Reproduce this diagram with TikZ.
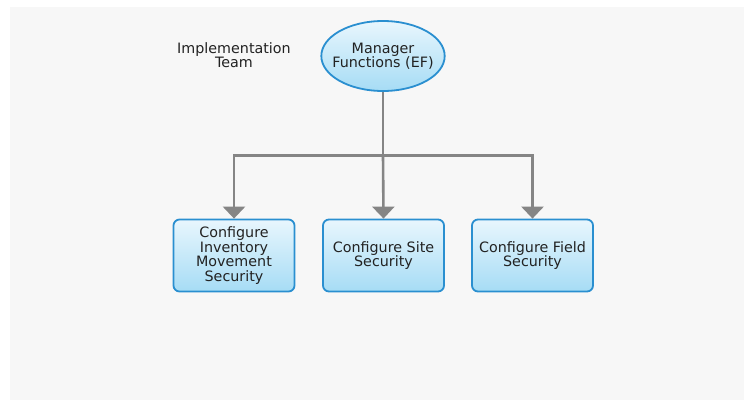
\documentclass[tikz,border=0pt]{standalone}
\usepackage{fontspec}
\setmainfont{DejaVu Sans}
\usetikzlibrary{arrows.meta,shapes.geometric}

\begin{document}
\begin{tikzpicture}[x=1pt,y=-1pt,font=\fontsize{14.3}{14.5}\selectfont]
\definecolor{cback}{HTML}{F7F7F7}\definecolor{cedge}{HTML}{2A8FD0}
\definecolor{ctop}{HTML}{E8F6FD}\definecolor{cbot}{HTML}{A6DCF5}
\definecolor{cline}{HTML}{858585}\definecolor{ctext}{HTML}{222222}
\tikzset{
  task/.style={draw=cedge,line width=1.8pt,rounded corners=6pt,top color=ctop,bottom color=cbot,
    minimum width=121pt,minimum height=72pt,align=center,inner sep=1pt,text=ctext},
  lead/.style={ellipse,draw=cedge,line width=1.8pt,top color=ctop,bottom color=cbot,
    minimum width=123pt,minimum height=70pt,align=center,inner xsep=-7pt,inner ysep=0pt,text=ctext},
  feed/.style={draw=cline,line width=2.6pt,-{Triangle[length=12pt,width=22pt]}}
}
% ===== page: white rim, grey canvas =====
\useasboundingbox (0,0) rectangle (744,400);
\fill[white] (0,0) rectangle (744,400);
\fill[cback] (10,7) rectangle (744,400);
% ===== top row: team label and manager ellipse =====
\node[align=center,text=ctext] (team) at (234,55) {Implementation\\Team};
\node[lead] (mgr) at (383,56) {Manager\\Functions (EF)};
% ===== bottom row: three configure tasks =====
\node[task] (inv) at (234,255.5) {Configure\\Inventory\\Movement\\Security};
\node[task] (site) at (383.5,255.5) {Configure Site\\Security};
\node[task] (field) at (532.5,255.5) {Configure Field\\Security};
% fork point under the ellipse
\coordinate (fork) at (383,155.5);
\draw[draw=cline,line width=2.6pt] (mgr.south) -- (fork);
\draw[feed] (fork) -| (inv.north);
\draw[feed] (fork) -- (site.north);
\draw[feed] (fork) -| (field.north);
\end{tikzpicture}
\end{document}
